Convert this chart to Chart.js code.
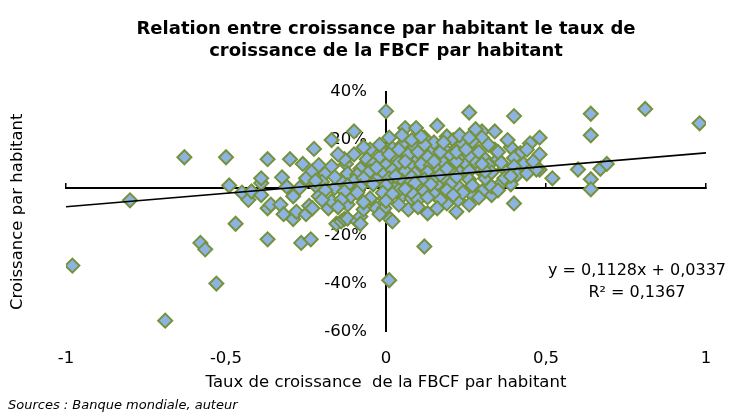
<!DOCTYPE html>
<html>
<head>
<meta charset="utf-8">
<script src="https://cdn.jsdelivr.net/npm/chart.js@4"></script>
<style>
  html, body { margin: 0; padding: 0; background: #fff; }
  #box { width: 732px; height: 417px; }
</style>
</head>
<body>
<div id="box"><canvas id="graphique" width="732" height="417"></canvas></div>
<script>
// Taux de croissance de la FBCF par habitant (x) / croissance par habitant en % (y)
const xFBCF = [
  -0.98, -0.80, -0.63, -0.50, -0.49, -0.58, -0.565, -0.53, -0.69, -0.47,
  -0.37, -0.265, -0.235, -0.37, -0.30, -0.225, -0.17, -0.10, 0.00, 0.01,
  0.12, 0.26, 0.40, 0.64, 0.64, 0.81, 0.98, 0.52, 0.60, 0.64,
  0.64, 0.67, 0.69, 0.40, 0.48, 0.48, 0.45,
  -0.45, -0.43, -0.42, -0.39, -0.39, -0.39, -0.37, -0.36, -0.33, -0.32,
  -0.325, -0.31, -0.29, -0.29, -0.28, -0.26, -0.25, -0.25, -0.24, -0.23,
  -0.23, -0.21, -0.18, -0.17, -0.155, -0.14, -0.13, -0.12, -0.12, -0.09,
  -0.08, -0.08, -0.07, -0.05, -0.03, -0.11, -0.16, -0.27, -0.125, -0.10,
  -0.05, 0.00, -0.19, -0.20, -0.22, -0.14, -0.17, -0.13, -0.08,
  0.013, 0.13, 0.07, 0.19, 0.22, 0.225, 0.27, 0.03, 0.11, 0.16,
  0.23, -0.005, -0.005, 0.05, 0.08, 0.33, 0.30, 0.39, 0.36, 0.02,
  0.06, 0.094, 0.16, 0.12, 0.02, 0.14, 0.19, 0.21, 0.225, 0.27,
  0.30, 0.34, 0.30, 0.39, 0.48, 0.42, 0.34, 0.40, 0.31, 0.35,
  0.43, 0.47, 0.275, 0.29, 0.37, 0.40, 0.41, 0.37, 0.31,
  -0.06, -0.02, 0.03, 0.07, 0.10, 0.13, 0.17, 0.20, 0.24, 0.05,
  0.09, 0.08, 0.15, 0.24, 0.27, 0.18, 0.11, -0.02, 0.32, -0.04,
  0.00, 0.04, 0.08, 0.11, 0.14, 0.18, 0.21, 0.25, 0.28, 0.32,
  0.36, 0.06, 0.16, 0.23, -0.12, -0.09, -0.05, -0.01, 0.02, 0.09,
  0.13, 0.20, 0.26, 0.33, -0.10, -0.07, -0.03, 0.01, 0.05, 0.08,
  0.12, 0.15, 0.19, 0.22, 0.26, 0.03, 0.17, -0.12, -0.08, -0.04,
  0.00, 0.07, 0.13, 0.09, 0.20, 0.27, 0.33, -0.19, -0.13, -0.09,
  -0.01, 0.04, 0.08, 0.12, 0.15, 0.19, 0.24, 0.02, 0.21, -0.14,
  -0.07, 0.00, 0.10, 0.13, 0.17, -0.02, 0.04, 0.10, -0.15, -0.20,
  -0.22, -0.16, -0.21, -0.15, -0.07, 0.01, 0.05, 0.23, 0.28, 0.26,
  0.35, 0.38, 0.44, 0.46, 0.39, 0.44, 0.35, 0.29, 0.26, 0.16,
  0.01, 0.04, 0.06, 0.10, 0.12, 0.15, 0.17, 0.19, 0.22, 0.22,
  0.25, 0.29, 0.31, 0.30, 0.14, 0.06, -0.03, 0.11, 0.18, 0.26
];
const yCroissance = [
  -32.5, -5.2, 12.8, 12.8, 1.0, -23, -25.7, -40, -55.5, -15,
  -21.5, -23, -21.5, 12, 12, 16.3, 20, 23.6, 32, -38.6,
  -24.5, 31.5, 30, 31, 22, 33, 27, 4, 7.7, 3.6,
  -0.6, 8, 10, -6.5, 21, 7.6, 18.6,
  -2, -5, -1.5, -3, 2, 4, -8.5, -7, -7, -11,
  4.4, 0.5, -3.5, -13, -10, 10, -11, 4, -7.5, 7,
  -8.5, -3.5, -8.5, -5.6, -15, -14, -13, -12.8, -7, -14,
  -12, -15, -9, -4.4, -8.5, -3.5, 0, 0, 10, 14,
  16, 15, 6, 2.5, 1, 3, 9, 12, 8,
  -13, -10.6, -9, -6.5, -10, -5, -3, 0, 0.6, 1.5,
  0, -8.5, -4.4, -3.5, -4.4, -3, -1.5, 1.5, 2, -14,
  25, 25, 26, 21, 16.5, 16, 21.5, 20, 17, 16,
  23.6, 23.6, 21, 17, 14, 14.5, 16, 12.5, 12, 12,
  10, 7.7, 14, 8, 8, 9, 5.6, 4, 4,
  12, 13, 12.5, 14, 12, 13, 12.5, 14, 12, 18,
  17, 20, 19, 18.5, 19.5, 16.5, 16, 18, 18, 10,
  9.5, 10.5, 9, 10, 9.5, 10.5, 9, 10, 11, 9.5,
  10.5, 7, 7.5, 6.5, 6, 5.5, 7, 6, 7.5, 6,
  6.5, 7.5, 7, 6.5, 3, 4, 3.5, 4, 3, 4.5,
  3.5, 4, 3, 4.5, 3.5, 5, 5.5, 1, 0.5, 1.5,
  1, 1.5, 0, 2, 1.5, 1, 0.5, -1, -1.5, -2,
  -2, -1, -2, -1.5, -2.5, -1, -2, -2.5, -3, -5,
  -6, -5.5, -5, -4, -5, -11, -7, -8, -8, -5,
  3, 4.5, 9.5, 14, 17, 21, 22, 22, 24.5, 13.5,
  15, 20, 16, 11, 5, 6, -1, -4, -7, -8.5,
  14, 16, 11, 15, 18, 11, 15, 8, 11, 15,
  16, 15, 7, 10, 1.5, -0.5, 8.5, 21.5, 19, 21
];

// droite de tendance y = 0,1128x + 0,0337 (R² = 0,1367)
const trendX = [-1, 1];
const trendY = [-7.91, 14.65];
const equation = ["y = 0,1128x + 0,0337", "R² = 0,1367"];

const police = "DejaVu Sans";

const points = xFBCF.map((x, i) => ({ x: x, y: yCroissance[i] }));
const tendance = trendX.map((x, i) => ({ x: x, y: trendY[i] }));

const texteEquation = {
    id: "texteEquation",
    afterDraw(chart) {
        const ctx = chart.ctx;
        const zone = chart.chartArea;
        ctx.save();
        ctx.fillStyle = "#000";
        ctx.font = "16px '" + police + "'";
        ctx.textAlign = "center";
        ctx.textBaseline = "middle";
        ctx.fillText(equation[0], zone.right - 69, zone.top + 179);
        ctx.fillText(equation[1], zone.right - 69, zone.top + 201);
        ctx.restore();
    }
};

new Chart(document.getElementById("graphique"), {
    type: "scatter",
    data: {
        datasets: [
            {
                label: "points",
                data: points,
                pointStyle: "rectRot",
                pointRadius: 7,
                backgroundColor: "#8DB3E2",
                borderColor: "#76923C",
                borderWidth: 2,
                order: 1
            },
            {
                type: "line",
                label: "tendance",
                data: tendance,
                borderColor: "#000",
                borderWidth: 1.6,
                pointRadius: 0,
                fill: false,
                order: 0
            }
        ]
    },
    options: {
        responsive: false,
        animation: false,
        layout: { padding: { left: 8, right: 26, top: 0, bottom: 4 } },
        plugins: {
            legend: { display: false },
            tooltip: { enabled: false },
            title: {
                display: true,
                fullSize: false,
                text: ["Relation entre croissance par habitant le taux de", "croissance de la FBCF par habitant"],
                color: "#000",
                font: { family: police, size: 18, weight: "bold", lineHeight: 1.2 },
                padding: { top: 19, bottom: 30 }
            },
            subtitle: {
                display: true,
                position: "bottom",
                align: "start",
                fullSize: true,
                text: "Sources : Banque mondiale, auteur",
                color: "#000",
                font: { family: police, size: 13, style: "italic" },
                padding: { top: 0, bottom: 0 }
            }
        },
        scales: {
            x: {
                type: "linear",
                position: "bottom",
                min: -1,
                max: 1,
                grid: { display: false, drawTicks: false },
                border: { display: false },
                ticks: {
                    stepSize: 0.5,
                    padding: 17,
                    color: "#000",
                    font: { family: police, size: 16.5 },
                    callback: v => String(v).replace(".", ",")
                },
                title: {
                    display: true,
                    text: "Taux de croissance  de la FBCF par habitant",
                    color: "#000",
                    font: { family: police, size: 16.5 },
                    padding: { top: 4, bottom: 4.5 }
                },
                afterFit: s => { s.height = 66; }
            },
            y: {
                type: "linear",
                position: "left",
                min: -60,
                max: 40,
                grid: { display: false, drawTicks: false },
                border: { display: false },
                ticks: { display: false },
                title: {
                    display: true,
                    text: "Croissance par habitant",
                    color: "#000",
                    font: { family: police, size: 16.5 },
                    padding: { top: 0, bottom: 0 }
                },
                afterFit: s => { s.width = 58; }
            },
            axeX: {
                type: "linear",
                axis: "x",
                position: { y: 0 },
                min: -1,
                max: 1,
                ticks: { display: false, stepSize: 0.5 },
                grid: { drawOnChartArea: false, tickLength: -6, color: "#000", lineWidth: 1.5 },
                border: { color: "#000", width: 2 },
                afterFit: s => { s.height = 0; }
            },
            axeY: {
                type: "linear",
                axis: "y",
                position: { x: 0 },
                min: -60,
                max: 40,
                grid: { display: false, drawTicks: false },
                border: { color: "#000", width: 2 },
                ticks: {
                    stepSize: 20,
                    color: "#000",
                    font: { family: police, size: 16.5 },
                    // espaces finaux : écart entre étiquette et axe
                    callback: v => v + "%   \u2009"
                },
                afterFit: s => { s.width = 0; }
            }
        }
    },
    plugins: [texteEquation]
});
</script>
</body>
</html>
